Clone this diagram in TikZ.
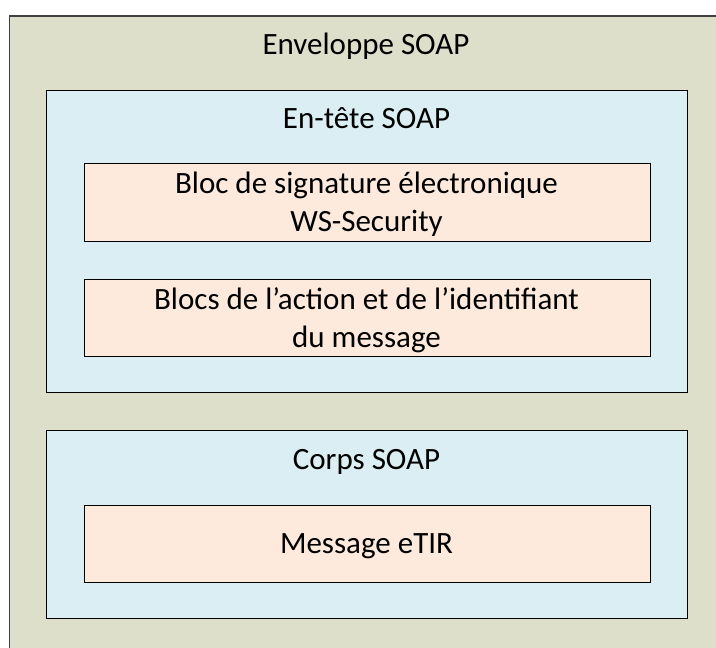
\documentclass[tikz,border=0pt]{standalone}
\usepackage{fontspec}
\setmainfont{Carlito}
\definecolor{envfill}{HTML}{DDDFCB}
\definecolor{bluefill}{HTML}{DAEEF3}
\definecolor{orfill}{HTML}{FDEADD}
\tikzset{
  box/.style={draw=black, line width=1.1pt, inner sep=0pt, anchor=north west},
  lbl/.style={font=\fontsize{31}{38}\selectfont, align=center, inner sep=0pt, anchor=base},
}
\begin{document}
\begin{tikzpicture}[x=1pt,y=-1pt]
\useasboundingbox (0,0) rectangle (716,648);
\begin{scope}
\clip (0,0) rectangle (716,648);
\node[box, draw=black!75, line width=1.6pt, fill=envfill, minimum width=720pt, minimum height=640pt] (env) at (8.5,15) {};
\end{scope}
\node[lbl] (envt) at (366,54) {Enveloppe SOAP};
\node[box, fill=bluefill, minimum width=641pt, minimum height=302pt] (head) at (46,90) {};
\node[lbl] (headt) at (366.5,128) {En-tête SOAP};
\node[box, fill=orfill, minimum width=566pt, minimum height=78pt] (sig) at (84,163) {};
\node[lbl] (sigt) at (366.5,231) {Bloc de signature électronique\\WS-Security};
\node[box, fill=orfill, minimum width=566pt, minimum height=77pt] (act) at (84,279) {};
\node[lbl] (actt) at (366.5,347) {Blocs de l’action et de l’identifiant\\du message};
\node[box, fill=bluefill, minimum width=641pt, minimum height=188pt] (body) at (46,430) {};
\node[lbl] (bodyt) at (366.5,469) {Corps SOAP};
\node[box, fill=orfill, minimum width=566pt, minimum height=77pt] (msg) at (84,505) {};
\node[lbl] (msgt) at (366.5,553) {Message eTIR};
\end{tikzpicture}
\end{document}
